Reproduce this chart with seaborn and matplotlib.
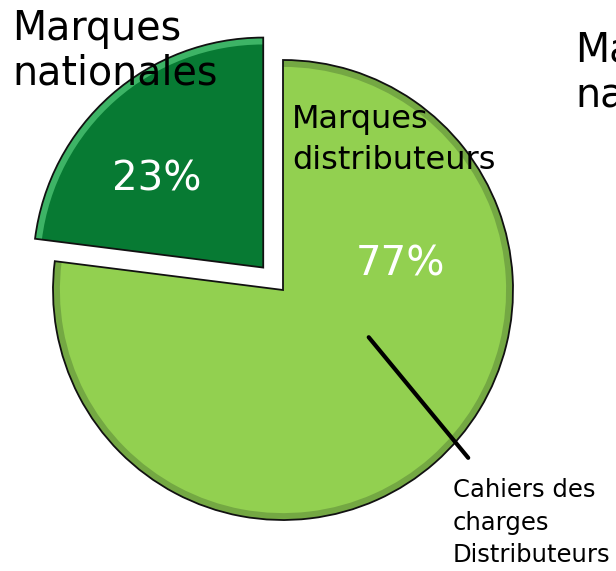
import numpy as np
import pandas as pd
import seaborn as sns
import matplotlib.pyplot as plt

# chart data
labels = ["Marques distributeurs", "Marques nationales"]
values = [77, 23]
colors = ["#92D050", "#077A33"]
rim_colors = ["#74A843", "#3DB466"]
explode = [0, 0.13]

sns.set_style("white")
plt.rcParams['font.family'] = ['DejaVu Sans']
plt.rcParams['text.color'] = 'black'

W, H = 616, 571
fig = plt.figure(figsize=(W / 100, H / 100), dpi=100)
ax = fig.add_axes([0, 0, 1, 1])

# pie center at (283, 290) px, radius 230 px
cx, cy, r = 283, 290, 230
ax.pie(values, colors=colors, explode=explode, startangle=90,
       counterclock=False, radius=1,
       wedgeprops=dict(edgecolor="none"))
# bevel rim
ax.pie(values, colors=rim_colors, explode=explode, startangle=90,
       counterclock=False, radius=1,
       wedgeprops=dict(width=0.03, edgecolor="none"))
# outline
ax.pie(values, colors=["none", "none"], explode=explode, startangle=90,
       counterclock=False, radius=1,
       wedgeprops=dict(edgecolor="#111111", linewidth=1.3, fill=False))
ax.set_xlim(-cx / r, (W - cx) / r)
ax.set_ylim(-(H - cy) / r, cy / r)
ax.set_aspect("equal")
ax.axis("off")

# percentages inside slices
ax.text(0.51, 0.11, f"{values[0]}%", color="white", fontsize=29,
        ha="center", va="center")
ax.text(-0.55, 0.48, f"{values[1]}%", color="white", fontsize=29,
        ha="center", va="center")

# slice labels
fig.text(12 / W, 1 - 9 / H, "Marques\nnationales", fontsize=28.5,
         ha="left", va="top", linespacing=1.16)
fig.text(292 / W, 1 - 104 / H, "Marques\ndistributeurs", fontsize=23,
         ha="left", va="top", linespacing=1.42)
fig.text(575 / W, 1 - 31 / H, "Marques\nnationales", fontsize=28.5,
         ha="left", va="top", linespacing=1.16)

# callout line
ax.annotate("", xy=(0.365, -0.196), xytext=(0.813, -0.739),
            arrowprops=dict(arrowstyle="-", color="black", lw=3))
fig.text(453 / W, 1 - 478 / H, "Cahiers des\ncharges\nDistributeurs",
         fontsize=17.5, ha="left", va="top", linespacing=1.45)

fig.savefig("out.png", dpi=100)
